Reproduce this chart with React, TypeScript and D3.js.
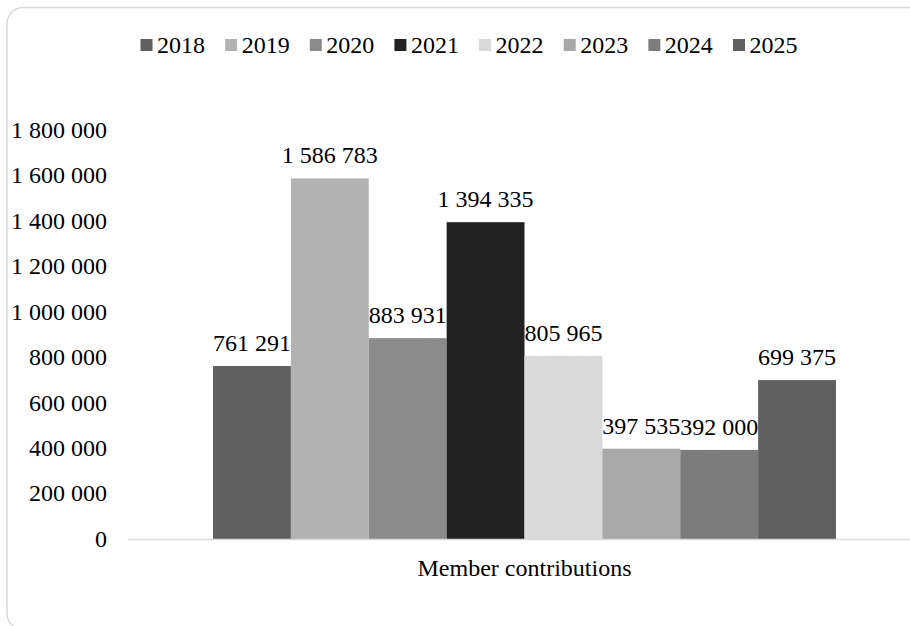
import React from "react";
import * as d3 from "d3";

const years = ["2018", "2019", "2020", "2021", "2022", "2023", "2024", "2025"];
const values = [761291, 1586783, 883931, 1394335, 805965, 397535, 392000, 699375];
const colors = ["#606060", "#b2b2b2", "#8b8b8b", "#222222", "#d9d9d9", "#a8a8a8", "#7c7c7c", "#606060"];
const category = "Member contributions";
const yTicks = [0, 200000, 400000, 600000, 800000, 1000000, 1200000, 1400000, 1600000, 1800000];

const W = 910;
const H = 626;
const plot = { left: 128, right: 921, top: 130, bottom: 539 };
const font = "'Liberation Serif', 'Times New Roman', serif";

const locale = d3.formatLocale({ decimal: ",", thousands: " ", grouping: [3], currency: ["", ""] });
const fmt = locale.format(",d");

export default function App() {
  const y = d3.scaleLinear().domain([0, 1800000]).range([plot.bottom, plot.top]);
  const x0 = d3.scaleBand().domain([category]).range([plot.left, plot.right]).paddingInner(0).paddingOuter(0.1365);
  const x1 = d3.scaleBand().domain(years).range([0, x0.bandwidth()]).padding(0);
  const cx = x0(category) as number;

  const legend = d3.scalePoint().domain(years).range([140.5, 733]);

  return (
    <svg width={W} height={H} style={{ position: "absolute", left: 0, top: 0, fontFamily: font }}>
      <rect x={7} y={7.5} width={930} height={622} rx={16} ry={16} fill="#fff" stroke="#d9d9d9" strokeWidth={1.5} />
      {/* legend */}
      {years.map((yr, i) => (
        <g key={yr} transform={`translate(${legend(yr)},45)`}>
          <rect x={0} y={-6} width={12} height={12} fill={colors[i]} />
          <text x={16.5} y={8} fontSize={24} fill="#000">{yr}</text>
        </g>
      ))}
      {/* y ticks */}
      {yTicks.map((t) => (
        <text key={t} x={107} y={y(t)} dy="0.33em" textAnchor="end" fontSize={24} fill="#000">
          {fmt(t)}
        </text>
      ))}
      {/* bars */}
      {years.map((yr, i) => (
        <rect
          key={yr}
          x={cx + (x1(yr) as number)}
          y={y(values[i])}
          width={x1.bandwidth()}
          height={plot.bottom - y(values[i])}
          fill={colors[i]}
        />
      ))}
      {/* axis line */}
      <line x1={plot.left} x2={plot.right} y1={plot.bottom + 0.5} y2={plot.bottom + 0.5} stroke="#d9d9d9" strokeWidth={1.5} />
      {/* data labels */}
      {years.map((yr, i) => (
        <text
          key={yr}
          x={cx + (x1(yr) as number) + x1.bandwidth() / 2}
          y={y(values[i]) - 15}
          textAnchor="middle"
          fontSize={24}
          fill="#000"
        >
          {fmt(values[i])}
        </text>
      ))}
      {/* category label */}
      <text x={cx + x0.bandwidth() / 2} y={576} textAnchor="middle" fontSize={24} fill="#000">
        {category}
      </text>
    </svg>
  );
}
